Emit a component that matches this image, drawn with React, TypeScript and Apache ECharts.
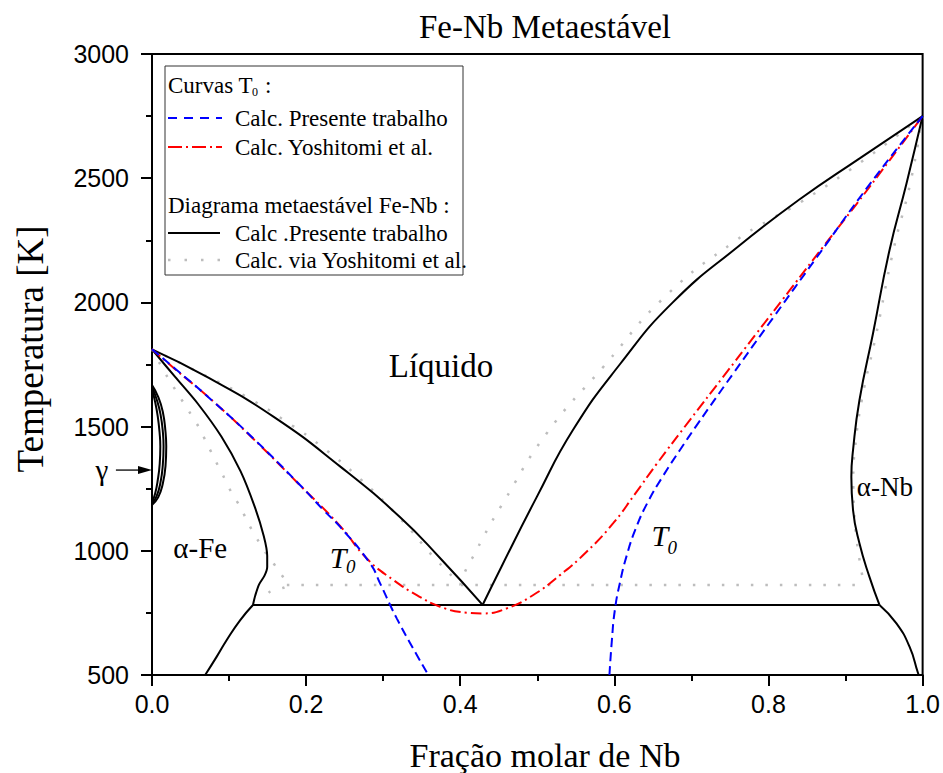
import React, { useEffect, useRef } from "react";
import * as echarts from "echarts";

// ---------- data (x = molar fraction Nb, T = temperature K) ----------
const X_TICKS = [0, 0.2, 0.4, 0.6, 0.8, 1.0];
const T_TICKS = [500, 1000, 1500, 2000, 2500, 3000];

// Present work (black solid)
const LIQ_FE_X = [0, 0.0713, 0.158, 0.244, 0.322, 0.374, 0.429];
const LIQ_FE_T = [1811, 1700, 1539, 1340, 1135, 970, 782];
const SOL_FE_X = [0, 0.03, 0.06, 0.09, 0.115, 0.133, 0.145, 0.1495, 0.1495, 0.146, 0.139, 0.134, 0.131];
const SOL_FE_T = [1811, 1700, 1590, 1460, 1320, 1180, 1060, 980, 935, 900, 865, 820, 782];
const SOLV_FE_X = [0.131, 0.1145, 0.097, 0.084, 0.069];
const SOLV_FE_T = [782, 721, 641, 574, 500];
const EUT_X = [0.131, 0.944];
const EUT_T = [782, 782];
const LIQ_NB_X = [0.429, 0.4538, 0.4992, 0.5462, 0.6072, 0.6758, 0.7627, 0.8405, 0.9183, 1.0];
const LIQ_NB_T = [782, 938, 1216, 1486, 1751, 2000, 2230, 2415, 2580, 2750];
const SOL_NB_X = [1.0, 0.979, 0.957, 0.9356, 0.918, 0.9097, 0.9075, 0.9097, 0.918, 0.931, 0.944];
const SOL_NB_T = [2750, 2478, 2210, 1875, 1606, 1405, 1298, 1164, 1030, 895, 782];
const SOLV_NB_X = [0.944, 0.966, 0.983, 0.994, 0.995];
const SOLV_NB_T = [782, 708, 614, 508, 500];
const GAMMA1_X = [0, 0.008, 0.014, 0.0175, 0.0185, 0.0175, 0.014, 0.008, 0];
const GAMMA1_T = [1667, 1620, 1560, 1480, 1420, 1340, 1270, 1215, 1185];
const GAMMA2_X = [0, 0.006, 0.011, 0.0142, 0.015, 0.014, 0.011, 0.006, 0];
const GAMMA2_T = [1660, 1610, 1550, 1475, 1420, 1345, 1275, 1220, 1190];
const GAMMA3_X = [0, 0.004, 0.0075, 0.01, 0.0108, 0.01, 0.0075, 0.004, 0];
const GAMMA3_T = [1650, 1600, 1540, 1470, 1420, 1350, 1285, 1230, 1195];

// Via Yoshitomi et al. (grey dotted)
const Y_LIQ_FE_X = [0, 0.05, 0.123, 0.1815, 0.218, 0.27, 0.322, 0.365, 0.382, 0.4];
const Y_LIQ_FE_T = [1811, 1735, 1619, 1505, 1425, 1290, 1130, 976, 922, 862];
const Y_SOL_FE_X = [0, 0.02, 0.0497, 0.0605, 0.0713, 0.082, 0.093, 0.1037, 0.1145, 0.125, 0.136, 0.148, 0.162, 0.175, 0.153, 0.142];
const Y_SOL_FE_T = [1811, 1700, 1553, 1499, 1432, 1365, 1298, 1231, 1177, 1110, 1050, 990, 930, 862, 835, 800];
const Y_EUT_X = [0.175, 0.924];
const Y_EUT_T = [862, 862];
const Y_LIQ_NB_X = [0.4, 0.408, 0.419, 0.43, 0.4538, 0.512, 0.5855, 0.668, 0.758, 0.8, 0.84, 0.92, 1.0];
const Y_LIQ_NB_T = [862, 929, 989, 1056, 1184, 1472, 1740, 2030, 2250, 2330, 2400, 2565, 2750];
const Y_SOL_NB_X = [1.0, 0.984, 0.962, 0.94, 0.921, 0.912, 0.91, 0.911, 0.915, 0.92, 0.924];
const Y_SOL_NB_T = [2750, 2480, 2210, 1875, 1606, 1405, 1298, 1164, 1030, 930, 862];

// T0 curves
const T0_P_LEFT_X = [0, 0.0324, 0.0799, 0.1317, 0.1923, 0.2225, 0.244, 0.283, 0.296, 0.309, 0.3176, 0.335, 0.3586];
const T0_P_LEFT_T = [1811, 1727, 1600, 1452, 1264, 1164, 1097, 949, 869, 782, 728, 628, 500];
const T0_P_RIGHT_X = [0.5936, 0.5968, 0.6006, 0.6071, 0.6162, 0.6279, 0.6434, 0.6629, 0.6849, 0.707, 0.7536, 0.8055, 0.8625, 0.9312, 1.0];
const T0_P_RIGHT_T = [500, 641, 761, 870, 983, 1091, 1196, 1300, 1405, 1506, 1711, 1936, 2181, 2475, 2750];
const T0_Y_X = [0, 0.0324, 0.08, 0.13, 0.19, 0.244, 0.2787, 0.3133, 0.3436, 0.3738, 0.4084, 0.43, 0.4603, 0.4948, 0.5294, 0.564, 0.5985, 0.6266, 0.6547, 0.6979, 0.7411, 0.7844, 0.8276, 0.8707, 0.914, 0.9571, 1.0];
const T0_Y_T = [1811, 1725, 1600, 1455, 1270, 1100, 969, 882, 822, 775, 751, 748, 768, 822, 902, 996, 1111, 1228, 1349, 1526, 1700, 1875, 2049, 2223, 2395, 2572, 2750];

const SERIF = "Liberation Serif";
const SANS = "Liberation Sans";

export default function App() {
  const ref = useRef<HTMLDivElement>(null);
  useEffect(() => {
    const chart = echarts.init(ref.current!, null, { renderer: "svg" });
    const mk = (name: string, xs: number[], ts: number[], style: any, smooth: number | boolean = 0.5, z = 2) => ({
      type: "line",
      name,
      data: xs.map((x, i) => [x, ts[i]]),
      showSymbol: false,
      symbol: "none",
      smooth,
      silent: true,
      z,
      lineStyle: style,
    });
    const black = { color: "#000", width: 2 };
    const grey = { color: "#bdbdbd", width: 2.5, type: [2.5, 12] };
    const blue = { color: "#0000ff", width: 2, type: [9, 5] };
    const red = { color: "#ff0000", width: 2, type: [11, 4, 2, 4] };

    const axisCommon = {
      axisLine: { show: true, onZero: false, lineStyle: { color: "#000", width: 2 } },
      axisTick: { show: true, inside: false, length: 11, lineStyle: { color: "#000", width: 2 } },
      minorTick: { show: true, splitNumber: 2, length: 6, lineStyle: { color: "#000", width: 2 } },
      splitLine: { show: false },
      minorSplitLine: { show: false },
    };

    chart.setOption({
      animation: false,
      grid: { left: 152, right: 20, top: 54, bottom: 98, show: true, borderColor: "#000", borderWidth: 2, backgroundColor: "transparent" },
      xAxis: {
        type: "value",
        min: X_TICKS[0],
        max: X_TICKS[X_TICKS.length - 1],
        interval: 0.2,
        ...axisCommon,
        axisLabel: { formatter: (v: number) => v.toFixed(1), fontFamily: SANS, fontSize: 25, color: "#000", margin: 16 },
      },
      yAxis: {
        type: "value",
        min: T_TICKS[0],
        max: T_TICKS[T_TICKS.length - 1],
        interval: 500,
        ...axisCommon,
        axisLabel: { formatter: (v: number) => String(v), fontFamily: SANS, fontSize: 25, color: "#000", margin: 23 },
      },
      series: [
        mk("y_liq_fe", Y_LIQ_FE_X, Y_LIQ_FE_T, grey, 0.5, 1),
        mk("y_sol_fe", Y_SOL_FE_X, Y_SOL_FE_T, grey, 0.3, 1),
        mk("y_eut", Y_EUT_X, Y_EUT_T, grey, false, 1),
        mk("y_liq_nb", Y_LIQ_NB_X, Y_LIQ_NB_T, grey, 0.5, 1),
        mk("y_sol_nb", Y_SOL_NB_X, Y_SOL_NB_T, grey, 0.5, 1),
        mk("liq_fe", LIQ_FE_X, LIQ_FE_T, black),
        mk("sol_fe", SOL_FE_X, SOL_FE_T, black, 0.3),
        mk("solv_fe", SOLV_FE_X, SOLV_FE_T, black),
        mk("eut", EUT_X, EUT_T, black, false),
        mk("liq_nb", LIQ_NB_X, LIQ_NB_T, black),
        mk("sol_nb", SOL_NB_X, SOL_NB_T, black),
        mk("solv_nb", SOLV_NB_X, SOLV_NB_T, black),
        mk("g1", GAMMA1_X, GAMMA1_T, black),
        mk("g2", GAMMA2_X, GAMMA2_T, black),
        mk("g3", GAMMA3_X, GAMMA3_T, black),
        mk("t0_y", T0_Y_X, T0_Y_T, red, 0.5, 3),
        mk("t0_p_l", T0_P_LEFT_X, T0_P_LEFT_T, blue, 0.5, 4),
        mk("t0_p_r", T0_P_RIGHT_X, T0_P_RIGHT_T, blue, 0.5, 4),
      ],
    });

    const px = (c: number, t: number) => chart.convertToPixel({ gridIndex: 0 }, [c, t]) as number[];
    const txt = (text: string, p: number[], size: number, extra: any = {}) => ({
      type: "text",
      x: p[0],
      y: p[1],
      z: 50,
      style: { text, fontFamily: SERIF, fontSize: size, fill: "#000", align: "center", verticalAlign: "middle", ...extra },
    });
    const liq = px(0.375, 1743);
    const afe = px(0.0626, 1011);
    const tl = px(0.2415, 975);
    const tl0 = px(0.258, 935);
    const tr = px(0.659, 1063);
    const tr0 = px(0.675, 1012);
    const anb = px(0.951, 1256);
    const gy = px(-0.065, 1325);
    const arrowEnd = px(0, 1325);

    // legend geometry
    const LX = 165, LY = 66, LW = 298, LH = 209;
    const sx1 = 168, sx2 = 222, tx = 235;
    const rows = [85, 118, 147, 205, 233, 260];
    const legFont = 23;

    chart.setOption({
      graphic: [
        txt("Fe-Nb Metaestável", [545, 27], 33),
        txt("Fração molar de Nb", [545, 755], 34),
        { ...txt("Temperatura [K]", [30, 349], 37), rotation: Math.PI / 2 },
        txt("Líquido", liq, 33),
        txt("α-Fe", afe, 29),
        txt("α-Nb", anb, 27),
        txt("T", tl, 30, { fontStyle: "italic" }),
        txt("0", tl0, 19, { fontStyle: "italic" }),
        txt("T", tr, 30, { fontStyle: "italic" }),
        txt("0", tr0, 19, { fontStyle: "italic" }),
        txt("γ", gy, 29),
        { type: "line", z: 50, shape: { x1: gy[0] + 14, y1: arrowEnd[1], x2: arrowEnd[0] - 10, y2: arrowEnd[1] }, style: { stroke: "#000", lineWidth: 1.3 } },
        { type: "polygon", z: 50, shape: { points: [[arrowEnd[0] - 14, arrowEnd[1] - 4], [arrowEnd[0], arrowEnd[1]], [arrowEnd[0] - 14, arrowEnd[1] + 4]] }, style: { fill: "#000" } },
        // legend box
        { type: "rect", z: 60, shape: { x: LX, y: LY, width: LW, height: LH }, style: { fill: "#fff", stroke: "#333", lineWidth: 1 } },
        { type: "text", z: 61, x: 168, y: rows[0], style: { text: "Curvas T", fontFamily: SERIF, fontSize: legFont, fill: "#000", align: "left", verticalAlign: "middle" } },
        { type: "text", z: 61, x: 252, y: rows[0] + 7, style: { text: "0", fontFamily: SERIF, fontSize: 12, fill: "#000", align: "left", verticalAlign: "middle" } },
        { type: "text", z: 61, x: 265, y: rows[0], style: { text: ":", fontFamily: SERIF, fontSize: legFont, fill: "#000", align: "left", verticalAlign: "middle" } },
        { type: "line", z: 61, shape: { x1: sx1, y1: rows[1], x2: sx2, y2: rows[1] }, style: { stroke: "#0000ff", lineWidth: 2, lineDash: [9, 7] } },
        { type: "text", z: 61, x: tx, y: rows[1], style: { text: "Calc. Presente trabalho", fontFamily: SERIF, fontSize: legFont, fill: "#000", align: "left", verticalAlign: "middle" } },
        { type: "line", z: 61, shape: { x1: sx1, y1: rows[2], x2: sx2, y2: rows[2] }, style: { stroke: "#ff0000", lineWidth: 2, lineDash: [14, 4, 2, 4] } },
        { type: "text", z: 61, x: tx, y: rows[2], style: { text: "Calc. Yoshitomi et al.", fontFamily: SERIF, fontSize: legFont, fill: "#000", align: "left", verticalAlign: "middle" } },
        { type: "text", z: 61, x: 168, y: rows[3], style: { text: "Diagrama metaestável Fe-Nb :", fontFamily: SERIF, fontSize: legFont, fill: "#000", align: "left", verticalAlign: "middle" } },
        { type: "line", z: 61, shape: { x1: sx1, y1: rows[4], x2: sx2 - 2, y2: rows[4] }, style: { stroke: "#000", lineWidth: 2 } },
        { type: "text", z: 61, x: tx, y: rows[4], style: { text: "Calc .Presente trabalho", fontFamily: SERIF, fontSize: legFont, fill: "#000", align: "left", verticalAlign: "middle" } },
        { type: "line", z: 61, shape: { x1: sx1, y1: rows[5], x2: sx2, y2: rows[5] }, style: { stroke: "#bdbdbd", lineWidth: 2.5, lineDash: [2.5, 14] } },
        { type: "text", z: 61, x: tx, y: rows[5], style: { text: "Calc. via Yoshitomi et al.", fontFamily: SERIF, fontSize: legFont, fill: "#000", align: "left", verticalAlign: "middle" } },
      ],
    });
    return () => chart.dispose();
  }, []);
  return <div ref={ref} style={{ position: "fixed", left: 0, top: 0, width: 943, height: 773, background: "#fff" }} />;
}
